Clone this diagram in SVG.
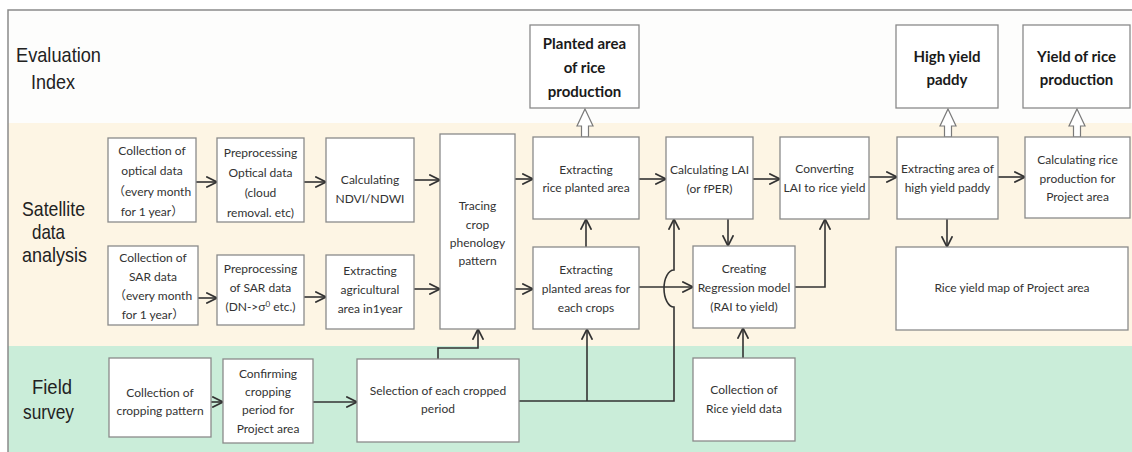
<svg xmlns="http://www.w3.org/2000/svg" width="1132" height="452" viewBox="0 0 1132 452">
<style>
.box{fill:#ffffff;stroke:#8a8a8a;stroke-width:1.3}
.t{font-family:Lato,"Liberation Sans","Noto Sans CJK JP",sans-serif;font-size:12px;fill:#333;text-anchor:middle}
.tb{font-family:Lato,"Liberation Sans",sans-serif;font-size:15px;font-weight:bold;fill:#1a1a1a;text-anchor:middle}
.lab{font-family:"Liberation Sans",Arial,sans-serif;font-size:21px;fill:#222}
.c{fill:none;stroke:#333;stroke-width:1.6}
.ca{fill:none;stroke:#333;stroke-width:1.6;marker-end:url(#ah)}
.hol{fill:#ffffff;stroke:#7a7a7a;stroke-width:1.2}
</style>
<defs>
<marker id="ah" markerUnits="userSpaceOnUse" markerWidth="12" markerHeight="12" viewBox="0 0 10 10" refX="9.5" refY="5" orient="auto">
<path d="M0.5,0.5 L9.5,5 L0.5,9.5" fill="none" stroke="#333" stroke-width="1.4"/>
</marker>
</defs>
<rect x="0" y="0" width="1132" height="452" fill="#ffffff"/>
<g id="bands">
<rect x="8" y="10" width="1130" height="113" fill="#fdfdfc"/>
<rect x="8" y="123" width="1130" height="223" fill="#fdf5e4"/>
<rect x="8" y="346" width="1130" height="110" fill="#caedd9"/>
<path d="M8,456 V10 H1140" fill="none" stroke="#8a8a8a" stroke-width="1.5"/>
</g>
<g id="row-labels">
<text class="lab" x="16" y="62" textLength="85" lengthAdjust="spacingAndGlyphs">Evaluation</text>
<text class="lab" x="31" y="89" textLength="44" lengthAdjust="spacingAndGlyphs">Index</text>
<text class="lab" x="22" y="216" textLength="63" lengthAdjust="spacingAndGlyphs">Satellite</text>
<text class="lab" x="32" y="239" textLength="33" lengthAdjust="spacingAndGlyphs">data</text>
<text class="lab" x="22" y="262" textLength="65" lengthAdjust="spacingAndGlyphs">analysis</text>
<text class="lab" x="32" y="394" textLength="40" lengthAdjust="spacingAndGlyphs">Field</text>
<text class="lab" x="23" y="419" textLength="51" lengthAdjust="spacingAndGlyphs">survey</text>
</g>
<g id="connectors">
<path class="ca" d="M196,182 H217"/>
<path class="ca" d="M304,182 H326"/>
<path class="ca" d="M414,180 H440"/>
<path class="ca" d="M198,298 H217"/>
<path class="ca" d="M304,297 H326"/>
<path class="ca" d="M414,289 H440"/>
<path class="ca" d="M515,179 H533"/>
<path class="ca" d="M515,289 H533"/>
<path class="ca" d="M586,247 V219"/>
<path class="ca" d="M639,179 H666"/>
<path class="ca" d="M753,179 H780"/>
<path class="ca" d="M728,219 V246"/>
<path class="ca" d="M639,287 H693"/>
<path class="ca" d="M519,401 H674 V307 A10 18.5 0 0 1 674,270 V219"/>
<path class="ca" d="M587,401 V329"/>
<path class="ca" d="M438,359 V348 H478 V329"/>
<path class="ca" d="M743,358 V328"/>
<path class="ca" d="M795,287 H825 V219"/>
<path class="ca" d="M869,177 H897"/>
<path class="ca" d="M998,177 H1025"/>
<path class="ca" d="M947,219 V247"/>
<path class="ca" d="M211,402 H223"/>
<path class="ca" d="M313,402 H357"/>
<polygon class="hol" points="585,109 593,126 588.5,126 588.5,137 581.5,137 581.5,126 577,126"/>
<polygon class="hol" points="948,109 956,126 951.5,126 951.5,137 944.5,137 944.5,126 940,126"/>
<polygon class="hol" points="1077,109 1085,126 1080.5,126 1080.5,137 1073.5,137 1073.5,126 1069,126"/>
</g>
<g id="planted-area">
<rect class="box" x="530" y="25" width="109" height="83"/>
<text class="tb" x="584.5" y="49">Planted area</text>
<text class="tb" x="584.5" y="73">of rice</text>
<text class="tb" x="584.5" y="97">production</text>
</g>
<g id="high-yield-paddy">
<rect class="box" x="896" y="25" width="102" height="83"/>
<text class="tb" x="947" y="62">High yield</text>
<text class="tb" x="947" y="85">paddy</text>
</g>
<g id="yield-of-rice">
<rect class="box" x="1023" y="25" width="107" height="83"/>
<text class="tb" x="1076.5" y="62">Yield of rice</text>
<text class="tb" x="1076.5" y="85">production</text>
</g>
<g id="collect-optical">
<rect class="box" x="108" y="138" width="88" height="84"/>
<text class="t" x="152" y="155">Collection of</text>
<text class="t" x="152" y="175">optical data</text>
<text class="t" x="152" y="196">（every month</text>
<text class="t" x="152" y="216">for 1 year）</text>
</g>
<g id="preprocess-optical">
<rect class="box" x="217" y="138" width="87" height="84"/>
<text class="t" x="260.5" y="157">Preprocessing</text>
<text class="t" x="260.5" y="177">Optical data</text>
<text class="t" x="260.5" y="197">(cloud</text>
<text class="t" x="260.5" y="217">removal. etc)</text>
</g>
<g id="ndvi">
<rect class="box" x="326" y="138" width="88" height="84"/>
<text class="t" x="370" y="184">Calculating</text>
<text class="t" x="370" y="203">NDVI/NDWI</text>
</g>
<g id="collect-sar">
<rect class="box" x="108" y="246" width="90" height="79"/>
<text class="t" x="153" y="262">Collection of</text>
<text class="t" x="153" y="281">SAR data</text>
<text class="t" x="153" y="300">（every month</text>
<text class="t" x="153" y="319">for 1 year）</text>
</g>
<g id="preprocess-sar">
<rect class="box" x="217" y="255" width="87" height="70"/>
<text class="t" x="260.5" y="273">Preprocessing</text>
<text class="t" x="260.5" y="292">of SAR data</text>
<text class="t" x="260.5" y="311">(DN-&gt;σ<tspan dy="-4" font-size="8">0</tspan><tspan dy="4"> etc.)</tspan></text>
</g>
<g id="agri-area">
<rect class="box" x="326" y="255" width="88" height="74"/>
<text class="t" x="370" y="275">Extracting</text>
<text class="t" x="370" y="294">agricultural</text>
<text class="t" x="370" y="313">area in1year</text>
</g>
<g id="tracing">
<rect class="box" x="440" y="134" width="75" height="195"/>
<text class="t" x="477.5" y="210">Tracing</text>
<text class="t" x="477.5" y="229">crop</text>
<text class="t" x="477.5" y="247">phenology</text>
<text class="t" x="477.5" y="265">pattern</text>
</g>
<g id="rice-planted">
<rect class="box" x="533" y="137" width="106" height="82"/>
<text class="t" x="586" y="174">Extracting</text>
<text class="t" x="586" y="192">rice planted area</text>
</g>
<g id="planted-each">
<rect class="box" x="533" y="247" width="106" height="82"/>
<text class="t" x="586" y="274">Extracting</text>
<text class="t" x="586" y="293">planted areas for</text>
<text class="t" x="586" y="312">each crops</text>
</g>
<g id="lai">
<rect class="box" x="666" y="137" width="87" height="82"/>
<text class="t" x="709.5" y="174">Calculating LAI</text>
<text class="t" x="709.5" y="193">(or fPER)</text>
</g>
<g id="regression">
<rect class="box" x="693" y="246" width="102" height="82"/>
<text class="t" x="744" y="273">Creating</text>
<text class="t" x="744" y="292">Regression model</text>
<text class="t" x="744" y="311">(RAI  to yield)</text>
</g>
<g id="convert">
<rect class="box" x="780" y="137" width="89" height="82"/>
<text class="t" x="824.5" y="173">Converting</text>
<text class="t" x="824.5" y="192">LAI to rice yield</text>
</g>
<g id="high-yield-area">
<rect class="box" x="897" y="137" width="101" height="82"/>
<text class="t" x="947.5" y="173">Extracting area of</text>
<text class="t" x="947.5" y="192">high yield paddy</text>
</g>
<g id="production">
<rect class="box" x="1025" y="137" width="105" height="81"/>
<text class="t" x="1077.5" y="164">Calculating rice</text>
<text class="t" x="1077.5" y="183">production for</text>
<text class="t" x="1077.5" y="201">Project area</text>
</g>
<g id="yield-map">
<rect class="box" x="896" y="247" width="232" height="83"/>
<text class="t" x="1012" y="292">Rice yield map of Project area</text>
</g>
<g id="cropping-pattern">
<rect class="box" x="109" y="358" width="102" height="79"/>
<text class="t" x="160" y="397">Collection of</text>
<text class="t" x="160" y="415">cropping pattern</text>
</g>
<g id="confirm-period">
<rect class="box" x="223" y="359" width="90" height="84"/>
<text class="t" x="268" y="378">Confirming</text>
<text class="t" x="268" y="396">cropping</text>
<text class="t" x="268" y="414">period for</text>
<text class="t" x="268" y="433">Project area</text>
</g>
<g id="selection">
<rect class="box" x="357" y="359" width="162" height="83"/>
<text class="t" x="438" y="395">Selection of each cropped</text>
<text class="t" x="438" y="413">period</text>
</g>
<g id="rice-yield-data">
<rect class="box" x="693" y="358" width="102" height="83"/>
<text class="t" x="744" y="394">Collection of</text>
<text class="t" x="744" y="413">Rice yield data</text>
</g>
</svg>
